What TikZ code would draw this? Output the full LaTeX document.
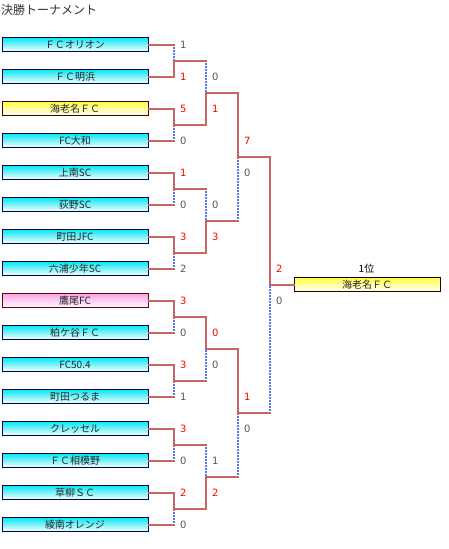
\documentclass[tikz,border=0pt]{standalone}
\usepackage{fontspec}
\setmainfont{Noto Sans CJK JP}
\newfontfamily\digitfont{DejaVu Sans}
\definecolor{ln}{HTML}{C86464}
\definecolor{dl}{HTML}{5078F8}
\definecolor{winc}{HTML}{FF0000}
\definecolor{losec}{HTML}{4A5A6A}
\definecolor{cy}{HTML}{00E8F0}
\definecolor{navy}{HTML}{000060}
\definecolor{yl}{HTML}{FFFF40}
\definecolor{pk}{HTML}{F8A0E8}
\tikzset{
  team/.style={draw=navy, line width=1pt, top color=cy, bottom color=white,
    minimum width=146pt, minimum height=14.5pt, inner sep=0pt, anchor=west,
    font=\fontsize{10}{10}\selectfont, text=black!85},
  goldteam/.style={team, draw=black!75!red, top color=yl},
  pinkteam/.style={team, draw=black!55!red, top color=pk},
  sol/.style={draw=ln, line width=2pt, line cap=rect},
  dotl/.style={draw=dl, line width=1.5pt, dash pattern=on 2pt off 1pt},
  sw/.style={anchor=west, inner sep=0pt, font=\digitfont\fontsize{10}{10}\selectfont, text=winc},
  sl/.style={sw, text=losec},
}
\begin{document}
\begin{tikzpicture}[x=1pt,y=-1pt]
\useasboundingbox (0,0) rectangle (449,549);
\node[anchor=west, inner sep=0pt, font=\fontsize{12}{12}\selectfont, text=black!80] (title) at (1,10) {決勝トーナメント};
% junctions
\coordinate (a1) at (174,60.5);  \coordinate (a2) at (174,124.5);
\coordinate (a3) at (174,188.5); \coordinate (a4) at (174,252.5);
\coordinate (a5) at (174,316.5); \coordinate (a6) at (174,380.5);
\coordinate (a7) at (174,444.5); \coordinate (a8) at (174,508.5);
\coordinate (b1) at (206,92.5);  \coordinate (b2) at (206,220.5);
\coordinate (b3) at (206,348.5); \coordinate (b4) at (206,476.5);
\coordinate (c1) at (238,156.5); \coordinate (c2) at (238,412.5);
\coordinate (f) at (270,284.5);
% team anchors
\path (1.5,44.5) coordinate (p1) (1.5,76.5) coordinate (p2) (1.5,108.5) coordinate (p3) (1.5,140.5) coordinate (p4)
      (1.5,172.5) coordinate (p5) (1.5,204.5) coordinate (p6) (1.5,236.5) coordinate (p7) (1.5,268.5) coordinate (p8)
      (1.5,300.5) coordinate (p9) (1.5,332.5) coordinate (p10) (1.5,364.5) coordinate (p11) (1.5,396.5) coordinate (p12)
      (1.5,428.5) coordinate (p13) (1.5,460.5) coordinate (p14) (1.5,492.5) coordinate (p15) (1.5,524.5) coordinate (p16);
\path (147.5,44.5) coordinate (e1) (147.5,76.5) coordinate (e2) (147.5,108.5) coordinate (e3) (147.5,140.5) coordinate (e4)
      (147.5,172.5) coordinate (e5) (147.5,204.5) coordinate (e6) (147.5,236.5) coordinate (e7) (147.5,268.5) coordinate (e8)
      (147.5,300.5) coordinate (e9) (147.5,332.5) coordinate (e10) (147.5,364.5) coordinate (e11) (147.5,396.5) coordinate (e12)
      (147.5,428.5) coordinate (e13) (147.5,460.5) coordinate (e14) (147.5,492.5) coordinate (e15) (147.5,524.5) coordinate (e16);
% dotted (losers' verticals)
\draw[dotl] (e1 -| a1) ++(0,2) -- (a1);
\draw[dotl] (e4 -| a2) ++(0,-2) -- (a2);
\draw[dotl] (e6 -| a3) ++(0,-2) -- (a3);
\draw[dotl] (e8 -| a4) ++(0,-2) -- (a4);
\draw[dotl] (e10 -| a5) ++(0,-2) -- (a5);
\draw[dotl] (e12 -| a6) ++(0,-2) -- (a6);
\draw[dotl] (e14 -| a7) ++(0,-2) -- (a7);
\draw[dotl] (e16 -| a8) ++(0,-2) -- (a8);
\draw[dotl] (a1 -| b1) ++(0,2) -- (b1);
\draw[dotl] (a3 -| b2) ++(0,2) -- (b2);
\draw[dotl] (a6 -| b3) ++(0,-2) -- (b3);
\draw[dotl] (a7 -| b4) ++(0,2) -- (b4);
\draw[dotl] (b2 -| c1) ++(0,-2) -- (c1);
\draw[dotl] (b4 -| c2) ++(0,-2) -- (c2);
\draw[dotl] (c2 -| f) ++(0,-2) -- (f);
% team boxes
\node[team] (t1) at (p1) {ＦＣオリオン};
\node[team] (t2) at (p2) {ＦＣ明浜};
\node[goldteam] (t3) at (p3) {海老名ＦＣ};
\node[team] (t4) at (p4) {FC大和};
\node[team] (t5) at (p5) {上南SC};
\node[team] (t6) at (p6) {荻野SC};
\node[team] (t7) at (p7) {町田JFC};
\node[team] (t8) at (p8) {六浦少年SC};
\node[pinkteam] (t9) at (p9) {鷹尾FC};
\node[team] (t10) at (p10) {柏ケ谷ＦＣ};
\node[team] (t11) at (p11) {FC50.4};
\node[team] (t12) at (p12) {町田つるま};
\node[team] (t13) at (p13) {クレッセル};
\node[team] (t14) at (p14) {ＦＣ相模野};
\node[team] (t15) at (p15) {草柳ＳＣ};
\node[team] (t16) at (p16) {綾南オレンジ};
\node[goldteam, draw=black!85!red] (champ) at (293.5,284.5) {海老名ＦＣ};
\node[inner sep=0pt, font=\fontsize{10}{10}\selectfont, text=black] (rank) at (366.5,269) {1位};
% solid paths
\draw[sol] (t1.east) -- (t1.east -| a1);
\draw[sol] (t2.east) -| (a1) -- (a1 -| b1);
\draw[sol] (t3.east) -| (a2) -| (b1) -| (c1) -| (f) -- (champ.west);
\draw[sol] (t4.east) -- (t4.east -| a2);
\draw[sol] (t5.east) -| (a3) -- (a3 -| b2);
\draw[sol] (t6.east) -- (t6.east -| a3);
\draw[sol] (t7.east) -| (a4) -| (b2) -- (b2 -| c1);
\draw[sol] (t8.east) -- (t8.east -| a4);
\draw[sol] (t9.east) -| (a5) -| (b3) -| (c2) -- (c2 -| f);
\draw[sol] (t10.east) -- (t10.east -| a5);
\draw[sol] (t11.east) -| (a6) -- (a6 -| b3);
\draw[sol] (t12.east) -- (t12.east -| a6);
\draw[sol] (t13.east) -| (a7) -- (a7 -| b4);
\draw[sol] (t14.east) -- (t14.east -| a7);
\draw[sol] (t15.east) -| (a8) -| (b4) -- (b4 -| c2);
\draw[sol] (t16.east) -- (t16.east -| a8);
% scores round 1
\node[sl] (s1) at ([xshift=6pt,yshift=16pt]a1) {1};
\node[sw] (s2) at ([xshift=6pt,yshift=-16pt]a1) {1};
\node[sw] (s3) at ([xshift=6pt,yshift=16pt]a2) {5};
\node[sl] (s4) at ([xshift=6pt,yshift=-16pt]a2) {0};
\node[sw] (s5) at ([xshift=6pt,yshift=16pt]a3) {1};
\node[sl] (s6) at ([xshift=6pt,yshift=-16pt]a3) {0};
\node[sw] (s7) at ([xshift=6pt,yshift=16pt]a4) {3};
\node[sl] (s8) at ([xshift=6pt,yshift=-16pt]a4) {2};
\node[sw] (s9) at ([xshift=6pt,yshift=16pt]a5) {3};
\node[sl] (s10) at ([xshift=6pt,yshift=-16pt]a5) {0};
\node[sw] (s11) at ([xshift=6pt,yshift=16pt]a6) {3};
\node[sl] (s12) at ([xshift=6pt,yshift=-16pt]a6) {1};
\node[sw] (s13) at ([xshift=6pt,yshift=16pt]a7) {3};
\node[sl] (s14) at ([xshift=6pt,yshift=-16pt]a7) {0};
\node[sw] (s15) at ([xshift=6pt,yshift=16pt]a8) {2};
\node[sl] (s16) at ([xshift=6pt,yshift=-16pt]a8) {0};
% round 2
\node[sl] (u1) at ([xshift=6pt,yshift=16pt]b1) {0};
\node[sw] (u2) at ([xshift=6pt,yshift=-16pt]b1) {1};
\node[sl] (u3) at ([xshift=6pt,yshift=16pt]b2) {0};
\node[sw] (u4) at ([xshift=6pt,yshift=-16pt]b2) {3};
\node[sw] (u5) at ([xshift=6pt,yshift=16pt]b3) {0};
\node[sl] (u6) at ([xshift=6pt,yshift=-16pt]b3) {0};
\node[sl] (u7) at ([xshift=6pt,yshift=16pt]b4) {1};
\node[sw] (u8) at ([xshift=6pt,yshift=-16pt]b4) {2};
% round 3
\node[sw] (v1) at ([xshift=6pt,yshift=16pt]c1) {7};
\node[sl] (v2) at ([xshift=6pt,yshift=-16pt]c1) {0};
\node[sw] (v3) at ([xshift=6pt,yshift=16pt]c2) {1};
\node[sl] (v4) at ([xshift=6pt,yshift=-16pt]c2) {0};
% final
\node[sw] (w1) at ([xshift=6pt,yshift=16pt]f) {2};
\node[sl] (w2) at ([xshift=6pt,yshift=-16pt]f) {0};
\end{tikzpicture}
\end{document}
